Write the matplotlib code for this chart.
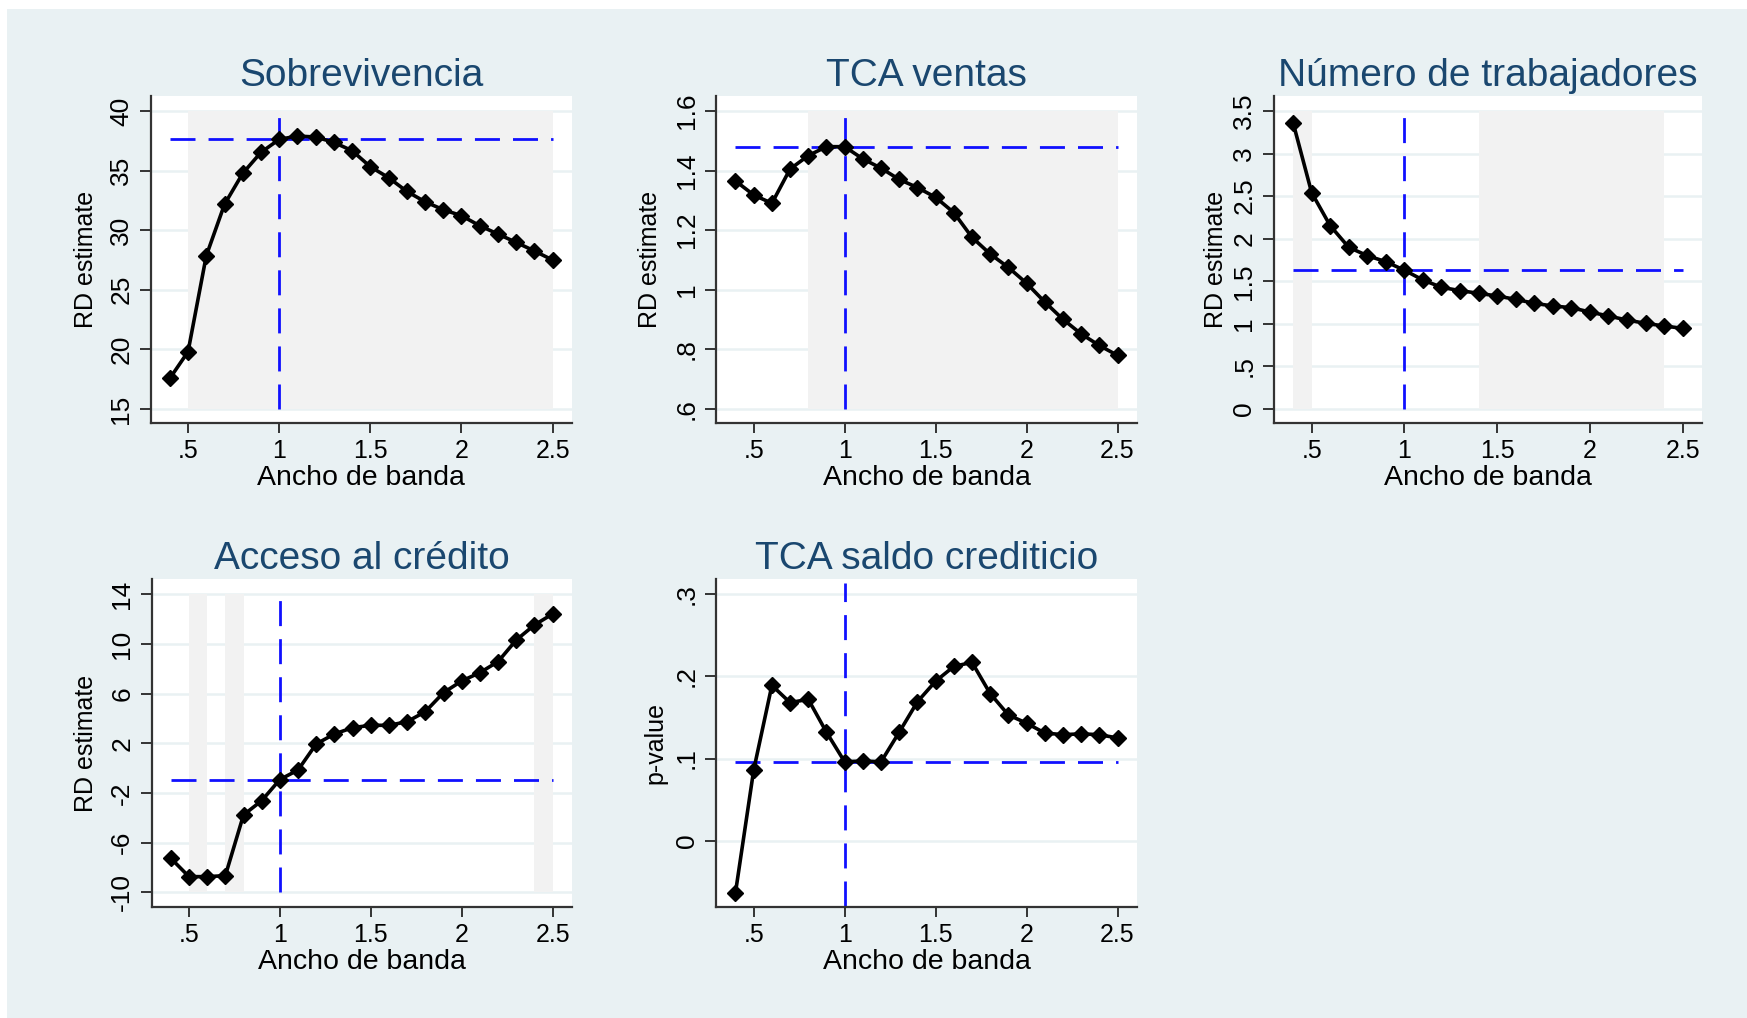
import matplotlib
matplotlib.use("Agg")
import matplotlib.pyplot as plt
from matplotlib.patches import Rectangle

plt.rcParams['font.family'] = ['Liberation Sans', 'DejaVu Sans']

W, H = 1747, 1018

# bandwidths used for the RD estimates
bandwidth = [0.4, 0.5, 0.6, 0.7, 0.8, 0.9, 1.0, 1.1, 1.2, 1.3, 1.4,
             1.5, 1.6, 1.7, 1.8, 1.9, 2.0, 2.1, 2.2, 2.3, 2.4, 2.5]

sobrevivencia = [17.57, 19.81, 27.86, 32.17, 34.77, 36.53, 37.62, 37.90, 37.82, 37.37, 36.67,
                 35.33, 34.41, 33.26, 32.39, 31.72, 31.22, 30.38, 29.68, 28.98, 28.26, 27.50]
tca_ventas = [1.365, 1.318, 1.290, 1.405, 1.450, 1.480, 1.480, 1.439, 1.408, 1.370, 1.343,
              1.310, 1.259, 1.176, 1.120, 1.075, 1.022, 0.959, 0.901, 0.852, 0.813, 0.780]
trabajadores = [3.363, 2.541, 2.153, 1.899, 1.801, 1.730, 1.630, 1.515, 1.429, 1.390, 1.359,
                1.327, 1.288, 1.241, 1.210, 1.190, 1.139, 1.092, 1.045, 1.006, 0.975, 0.947]
credito = [-7.26, -8.74, -8.74, -8.66, -3.77, -2.62, -0.92, -0.15, 1.95, 2.75, 3.26,
           3.45, 3.45, 3.74, 4.55, 6.08, 7.02, 7.69, 8.58, 10.32, 11.53, 12.42]
saldo_pvalue = [-0.063, 0.086, 0.189, 0.168, 0.172, 0.132, 0.096, 0.097, 0.096, 0.132, 0.169,
                0.194, 0.212, 0.217, 0.179, 0.153, 0.143, 0.131, 0.129, 0.130, 0.129, 0.125]

titles = ["Sobrevivencia", "TCA ventas", "Número de trabajadores",
          "Acceso al crédito", "TCA saldo crediticio"]
ylabels = ["RD estimate", "RD estimate", "RD estimate", "RD estimate", "p-value"]
series = [sobrevivencia, tca_ventas, trabajadores, credito, saldo_pvalue]

yticks = [[15, 20, 25, 30, 35, 40],
          [0.6, 0.8, 1.0, 1.2, 1.4, 1.6],
          [0, 0.5, 1, 1.5, 2, 2.5, 3, 3.5],
          [-10, -6, -2, 2, 6, 10, 14],
          [0, 0.1, 0.2, 0.3]]
ytick_labels = [["15", "20", "25", "30", "35", "40"],
                [".6", ".8", "1", "1.2", "1.4", "1.6"],
                ["0", ".5", "1", "1.5", "2", "2.5", "3", "3.5"],
                ["-10", "-6", "-2", "2", "6", "10", "14"],
                ["0", ".1", ".2", ".3"]]
xticks = [0.5, 1, 1.5, 2, 2.5]
xtick_labels = [".5", "1", "1.5", "2", "2.5"]

# shaded bandwidth ranges
shaded = [[(0.5, 2.5)],
          [(0.8, 2.5)],
          [(0.4, 0.5), (1.4, 2.4)],
          [(0.5, 0.6), (0.7, 0.8), (2.4, 2.5)],
          []]
vline_span = [(15, 39.6), (0.6, 1.584), (0, 3.445), (-10, 13.68), (-0.080, 0.313)]

# layout in pixels: left, top, right, bottom, ylim, ylabel offset
layout = [
    (150.7, 96, 571.7, 423.3, (13.80, 41.26), 65),
    (716.4, 96, 1136.6, 423.3, (0.552, 1.650), 66),
    (1273.6, 96, 1702.1, 423.3, (-0.168, 3.676), 58),
    (151.7, 579.3, 571.7, 907.3, (-11.21, 15.21), 66),
    (716.4, 579.3, 1136.6, 907.3, (-0.081, 0.318), 61),
]

BG = '#e9f1f3'
NAVY = '#1a476f'
BLUE = '#1010ff'

fig = plt.figure(figsize=(W / 100, H / 100), dpi=100)
fig.patch.set_facecolor('white')
fig.add_artist(Rectangle((7 / W, 0), 1 - 7 / W, 1 - 9 / H, transform=fig.transFigure,
                         facecolor=BG, edgecolor='none', zorder=-10))

for i in range(5):
    l, t, r, b, ylim, yoff = layout[i]
    ax = fig.add_axes([l / W, 1 - b / H, (r - l) / W, (b - t) / H])
    ax.set_facecolor('white')
    ys = series[i]
    lo, hi = yticks[i][0], yticks[i][-1]

    for tv in yticks[i]:
        ax.axhline(tv, color=BG, lw=1.8, zorder=0.5)
    for x0, x1 in shaded[i]:
        ax.fill_between([x0, x1], lo, hi, color='#f2f2f2', lw=0, zorder=0.8)

    ref = ys[bandwidth.index(1.0)]
    ax.plot([bandwidth[0], bandwidth[-1]], [ref, ref], color=BLUE, lw=2.0,
            ls=(0, (9, 4.7)), zorder=2)
    ax.plot([1, 1], vline_span[i], color=BLUE, lw=2.0, ls=(0, (9, 4.7)), zorder=2)
    ax.plot(bandwidth, ys, color='black', lw=2.6, marker='D', ms=8.5, zorder=3)

    ax.set_xlim(0.295, 2.605)
    ax.set_ylim(*ylim)
    ax.set_xticks(xticks)
    ax.set_xticklabels(xtick_labels, fontsize=18)
    ax.set_yticks(yticks[i])
    ax.set_yticklabels(ytick_labels[i], fontsize=19, rotation=90, va='center')
    ax.tick_params(axis='x', length=7, width=1.4, pad=4.5, color='#333333')
    ax.tick_params(axis='y', length=8, width=1.4, pad=4.5, color='#333333')
    for s in ['top', 'right']:
        ax.spines[s].set_visible(False)
    for s in ['left', 'bottom']:
        ax.spines[s].set_linewidth(1.6)
        ax.spines[s].set_color('#333333')

    cx = (l + r) / 2
    fig.text(cx / W, 1 - (t - 10) / H, titles[i], fontsize=28, color=NAVY,
             ha='center', va='baseline')
    fig.text(cx / W, 1 - (b + 62) / H, "Ancho de banda", fontsize=20.5,
             ha='center', va='baseline')
    fig.text((l - yoff) / W, 1 - ((t + b) / 2) / H, ylabels[i], fontsize=18,
             rotation=90, ha='center', va='center')

fig.savefig('out.png', dpi=100, facecolor=fig.get_facecolor())
